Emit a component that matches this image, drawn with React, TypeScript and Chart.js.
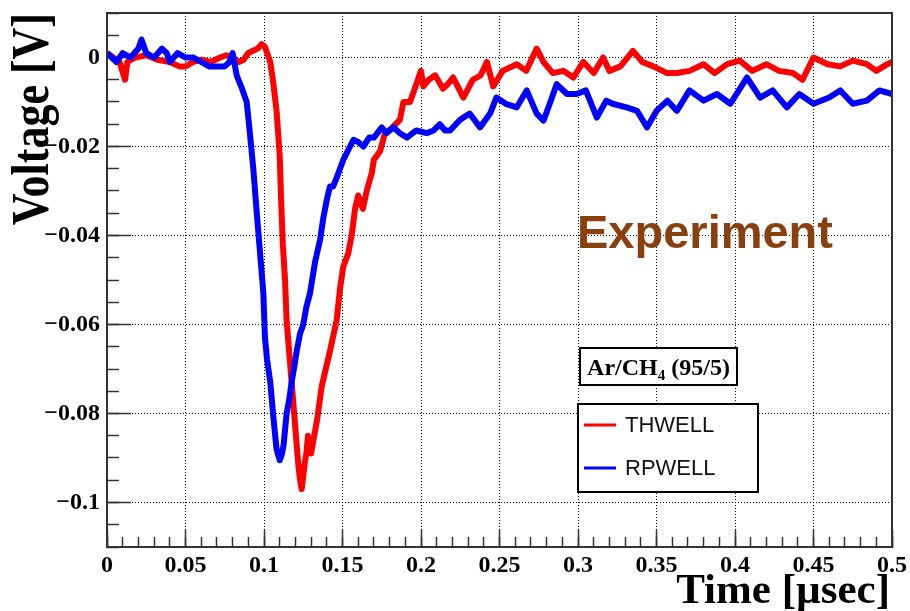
import React, { useEffect, useRef } from "react";
import { Chart, registerables } from "chart.js";

Chart.register(...registerables);

// ---- data ----
const RED_T = [0, 0.004, 0.008, 0.0115, 0.013, 0.018, 0.025, 0.032, 0.04, 0.046, 0.05, 0.055, 0.06, 0.066, 0.072, 0.076, 0.08, 0.084, 0.087, 0.09, 0.093, 0.096, 0.0985, 0.1005, 0.102, 0.104, 0.106, 0.108, 0.11, 0.111, 0.112, 0.1134, 0.1144, 0.116, 0.1176, 0.119, 0.1208, 0.122, 0.123, 0.124, 0.125, 0.126, 0.127, 0.128, 0.129, 0.13, 0.132, 0.134, 0.1367, 0.14, 0.142, 0.1463, 0.1484, 0.1505, 0.1537, 0.1558, 0.158, 0.16, 0.163, 0.1654, 0.1686, 0.17, 0.174, 0.177, 0.181, 0.1866, 0.1888, 0.193, 0.196, 0.2, 0.2015, 0.205, 0.209, 0.214, 0.217, 0.2205, 0.227, 0.233, 0.238, 0.242, 0.246, 0.252, 0.261, 0.267, 0.2737, 0.278, 0.284, 0.2906, 0.297, 0.3034, 0.31, 0.316, 0.32, 0.327, 0.335, 0.341, 0.348, 0.3567, 0.363, 0.371, 0.38, 0.387, 0.395, 0.403, 0.411, 0.42, 0.428, 0.437, 0.443, 0.45, 0.459, 0.467, 0.475, 0.484, 0.49, 0.497, 0.5];
const RED_V = [0.001, 0, -0.001, -0.005, -0.001, 0, 0.0005, -0.0005, -0.001, -0.002, -0.002, -0.001, -0.0005, -0.001, 0, 0.0005, 0, -0.001, -0.0005, 0.001, 0.0015, 0.002, 0.003, 0.0025, 0.001, -0.001, -0.006, -0.012, -0.022, -0.033, -0.042, -0.05, -0.059, -0.066, -0.073, -0.079, -0.087, -0.092, -0.095, -0.097, -0.094, -0.091, -0.089, -0.085, -0.087, -0.089, -0.085, -0.081, -0.074, -0.069, -0.066, -0.059, -0.052, -0.047, -0.044, -0.04, -0.034, -0.031, -0.034, -0.03, -0.026, -0.023, -0.021, -0.017, -0.016, -0.014, -0.01, -0.01, -0.007, -0.003, -0.0065, -0.005, -0.004, -0.007, -0.006, -0.0045, -0.009, -0.005, -0.004, -0.001, -0.0065, -0.003, -0.0015, -0.003, 0.002, -0.001, -0.0035, -0.003, -0.0045, -0.001, -0.0035, 0, -0.003, -0.002, 0.0015, -0.001, -0.002, -0.0035, -0.0035, -0.003, -0.0015, -0.0035, -0.0015, -0.0007, -0.003, -0.0015, -0.003, -0.0035, -0.005, 0, -0.0015, -0.002, -0.0007, -0.0015, -0.003, -0.0015, -0.001];

const BLUE_T = [0, 0.003, 0.006, 0.01, 0.015, 0.02, 0.022, 0.025, 0.03, 0.035, 0.038, 0.04, 0.045, 0.05, 0.055, 0.06, 0.065, 0.07, 0.075, 0.078, 0.08, 0.0826, 0.086, 0.089, 0.091, 0.0932, 0.0954, 0.0975, 0.0996, 0.1006, 0.102, 0.104, 0.106, 0.108, 0.11, 0.1115, 0.1125, 0.1144, 0.116, 0.1176, 0.1195, 0.1208, 0.123, 0.125, 0.127, 0.1293, 0.1325, 0.1357, 0.1378, 0.14, 0.142, 0.144, 0.1463, 0.1484, 0.1505, 0.1548, 0.157, 0.16, 0.1633, 0.167, 0.17, 0.175, 0.178, 0.1824, 0.1866, 0.191, 0.197, 0.2037, 0.208, 0.212, 0.2153, 0.2185, 0.2249, 0.231, 0.2376, 0.244, 0.248, 0.254, 0.261, 0.2673, 0.2737, 0.278, 0.282, 0.2864, 0.293, 0.299, 0.305, 0.312, 0.318, 0.322, 0.331, 0.3376, 0.344, 0.35, 0.357, 0.363, 0.371, 0.38, 0.3885, 0.397, 0.4076, 0.416, 0.424, 0.433, 0.441, 0.45, 0.46, 0.467, 0.475, 0.484, 0.492, 0.5];
const BLUE_V = [0.001, 0, -0.001, 0.001, 0, 0.002, 0.004, 0.001, 0, 0.002, 0.001, -0.001, 0.001, 0, 0, -0.001, -0.002, -0.002, -0.002, -0.001, 0.001, -0.004, -0.007, -0.01, -0.017, -0.025, -0.035, -0.044, -0.053, -0.063, -0.068, -0.073, -0.081, -0.088, -0.0905, -0.089, -0.087, -0.08, -0.077, -0.073, -0.069, -0.066, -0.062, -0.06, -0.056, -0.053, -0.046, -0.041, -0.036, -0.032, -0.029, -0.029, -0.027, -0.025, -0.023, -0.02, -0.0185, -0.019, -0.02, -0.018, -0.018, -0.0157, -0.017, -0.0157, -0.017, -0.018, -0.0164, -0.017, -0.0164, -0.015, -0.0164, -0.0164, -0.014, -0.0126, -0.0157, -0.0126, -0.009, -0.0104, -0.0112, -0.0074, -0.0126, -0.0142, -0.0104, -0.006, -0.0082, -0.0082, -0.0074, -0.0135, -0.0097, -0.0104, -0.0112, -0.012, -0.0157, -0.012, -0.0097, -0.012, -0.0074, -0.0097, -0.0082, -0.0104, -0.0045, -0.009, -0.0074, -0.0112, -0.0082, -0.0104, -0.009, -0.0074, -0.0104, -0.0097, -0.0074, -0.0082];

const SERIES_LABELS = ["THWELL", "RPWELL"];
const SERIES_COLORS = ["#ff0000", "#0000ff"];

const X_MAJOR = [0, 0.05, 0.1, 0.15, 0.2, 0.25, 0.3, 0.35, 0.4, 0.45, 0.5];
const X_LABELS = ["0", "0.05", "0.1", "0.15", "0.2", "0.25", "0.3", "0.35", "0.4", "0.45", "0.5"];
const Y_MAJOR = [0, -0.02, -0.04, -0.06, -0.08, -0.1];
const Y_LABELS = ["0", "\u22120.02", "\u22120.04", "\u22120.06", "\u22120.08", "\u22120.1"];
const X_MINOR = Array.from({ length: 51 }, (_, i) => i / 100);
const Y_MINOR = Array.from({ length: 25 }, (_, i) => (i - 22) / 200);

const X_TITLE = "Time [\u00b5sec]";
const Y_TITLE = "Voltage [V]";
const ANNOTATION = "Experiment";
const GAS = ["Ar/CH", "4", " (95/5)"];

const SERIF = '"Liberation Serif", "Times New Roman", serif';
const SANS = '"Liberation Sans", Arial, sans-serif';

const labelFor = (vals: number[], labels: string[]) => (v: any) => {
  const i = vals.findIndex((a) => Math.abs(a - Number(v)) < 1e-9);
  return i >= 0 ? labels[i] : "";
};

const fixWidth = (w: number) => (s: any) => {
  s.width = w;
  s.paddingTop = 0; s.paddingBottom = 0; s.paddingLeft = 0; s.paddingRight = 0;
};
const fixHeight = (h: number) => (s: any) => {
  s.height = h;
  s.paddingTop = 0; s.paddingBottom = 0; s.paddingLeft = 0; s.paddingRight = 0;
};

const decor = {
  id: "decor",
  afterDraw(chart: any) {
    const { ctx, chartArea: a } = chart;
    ctx.save();
    // frame
    ctx.strokeStyle = "#333";
    ctx.lineWidth = 2;
    ctx.strokeRect(a.left, a.top, a.right - a.left, a.bottom - a.top);

    // annotation
    ctx.fillStyle = "#8a3f0e";
    ctx.font = `bold 47px ${SANS}`;
    ctx.textAlign = "left";
    ctx.textBaseline = "alphabetic";
    ctx.fillText(ANNOTATION, 577, 248);

    // gas box
    ctx.fillStyle = "#fff";
    ctx.fillRect(580, 348, 157, 37);
    ctx.strokeStyle = "#000";
    ctx.lineWidth = 2;
    ctx.strokeRect(580, 348, 157, 37);
    ctx.fillStyle = "#000";
    ctx.font = `bold 24px ${SERIF}`;
    const w0 = ctx.measureText(GAS[0]).width;
    const w2 = ctx.measureText(GAS[2]).width;
    ctx.font = `bold 15px ${SERIF}`;
    const w1 = ctx.measureText(GAS[1]).width;
    let x = 658.5 - (w0 + w1 + w2) / 2;
    ctx.font = `bold 24px ${SERIF}`;
    ctx.fillText(GAS[0], x, 375);
    x += w0;
    ctx.font = `bold 15px ${SERIF}`;
    ctx.fillText(GAS[1], x, 380);
    x += w1;
    ctx.font = `bold 24px ${SERIF}`;
    ctx.fillText(GAS[2], x, 375);

    // legend box
    ctx.fillStyle = "#fff";
    ctx.fillRect(578, 404, 180, 88);
    ctx.strokeStyle = "#000";
    ctx.lineWidth = 2;
    ctx.strokeRect(578, 404, 180, 88);
    const ys = [425, 468];
    chart.data.datasets.forEach((ds: any, i: number) => {
      ctx.strokeStyle = ds.borderColor;
      ctx.lineWidth = 3;
      ctx.beginPath();
      ctx.moveTo(584, ys[i]);
      ctx.lineTo(616, ys[i]);
      ctx.stroke();
      ctx.fillStyle = "#111";
      ctx.font = `22px ${SANS}`;
      ctx.textBaseline = "middle";
      ctx.fillText(ds.label, 625, ys[i] + 1);
    });

    // axis titles
    ctx.fillStyle = "#000";
    ctx.textBaseline = "alphabetic";
    ctx.font = `bold 43px ${SERIF}`;
    ctx.textAlign = "right";
    ctx.fillText(X_TITLE, 890, 603);

    ctx.translate(48, 13);
    ctx.rotate(-Math.PI / 2);
    ctx.scale(1, 1.2);
    ctx.font = `bold 44px ${SERIF}`;
    ctx.textAlign = "right";
    ctx.fillText(Y_TITLE, 0, 0);
    ctx.restore();
  },
};

export default function App() {
  const ref = useRef<HTMLCanvasElement | null>(null);
  useEffect(() => {
    if (!ref.current) return;
    const tickFont = { family: SERIF, size: 24, weight: "bold" as const, lineHeight: 1.2 };
    const lineDs = (label: string, color: string, ts: number[], vs: number[], order: number) => ({
      label,
      data: ts.map((t, i) => ({ x: t, y: vs[i] })),
      borderColor: color,
      borderWidth: 6,
      borderJoinStyle: "round",
      pointRadius: 0,
      tension: 0,
      order,
    });
    const chart = new Chart(ref.current, {
      type: "line",
      data: {
        datasets: [
          lineDs(SERIES_LABELS[0], SERIES_COLORS[0], RED_T, RED_V, 1),
          lineDs(SERIES_LABELS[1], SERIES_COLORS[1], BLUE_T, BLUE_V, 0),
        ],
      },
      options: {
        animation: false,
        responsive: false,
        maintainAspectRatio: false,
        layout: { padding: { left: 0, top: 13, right: 18, bottom: 0 } },
        plugins: { legend: { display: false }, tooltip: { enabled: false }, title: { display: false } },
        scales: {
          x: {
            type: "linear",
            position: "bottom",
            weight: 1,
            min: 0,
            max: 0.5,
            afterFit: fixHeight(64),
            afterBuildTicks: (s: any) => { s.ticks = X_MAJOR.map((v) => ({ value: v })); },
            ticks: { callback: labelFor(X_MAJOR, X_LABELS), font: tickFont, color: "#000", padding: 21, maxRotation: 0, autoSkip: false },
            grid: { color: "#000", lineWidth: 1, tickLength: -17, tickBorderDash: [], tickColor: "#333", tickWidth: 1.5 },
            border: { display: true, color: "#333", width: 2, dash: [1, 2] },
          },
          xMinor: {
            type: "linear",
            position: "bottom",
            weight: 0,
            display: true,
            min: 0,
            max: 0.5,
            afterFit: fixHeight(0),
            afterBuildTicks: (s: any) => { s.ticks = X_MINOR.map((v) => ({ value: v })); },
            ticks: { display: false },
            grid: { drawOnChartArea: false, tickLength: -10, tickColor: "#333", tickWidth: 1.5 },
            border: { display: false },
          },
          y: {
            type: "linear",
            position: "left",
            weight: 1,
            min: -0.11,
            max: 0.01,
            afterFit: fixWidth(107),
            afterBuildTicks: (s: any) => { s.ticks = Y_MAJOR.map((v) => ({ value: v })); },
            ticks: { callback: labelFor(Y_MAJOR, Y_LABELS), font: tickFont, color: "#000", padding: 31, autoSkip: false },
            grid: { color: "#000", lineWidth: 1, tickLength: -24, tickBorderDash: [], tickColor: "#333", tickWidth: 1.5 },
            border: { display: true, color: "#333", width: 2, dash: [1, 2] },
          },
          yMinor: {
            type: "linear",
            position: "left",
            weight: 0,
            display: true,
            min: -0.11,
            max: 0.01,
            afterFit: fixWidth(0),
            afterBuildTicks: (s: any) => { s.ticks = Y_MINOR.map((v) => ({ value: v })); },
            ticks: { display: false },
            grid: { drawOnChartArea: false, tickLength: -12, tickColor: "#333", tickWidth: 1.5 },
            border: { display: false },
          },
        },
      } as any,
      plugins: [decor],
    });
    return () => chart.destroy();
  }, []);
  return (
    <div style={{ position: "fixed", left: 0, top: 0, width: 910, height: 611, background: "#fff" }}>
      <canvas ref={ref} width={910} height={611} style={{ width: 910, height: 611 }} />
    </div>
  );
}
